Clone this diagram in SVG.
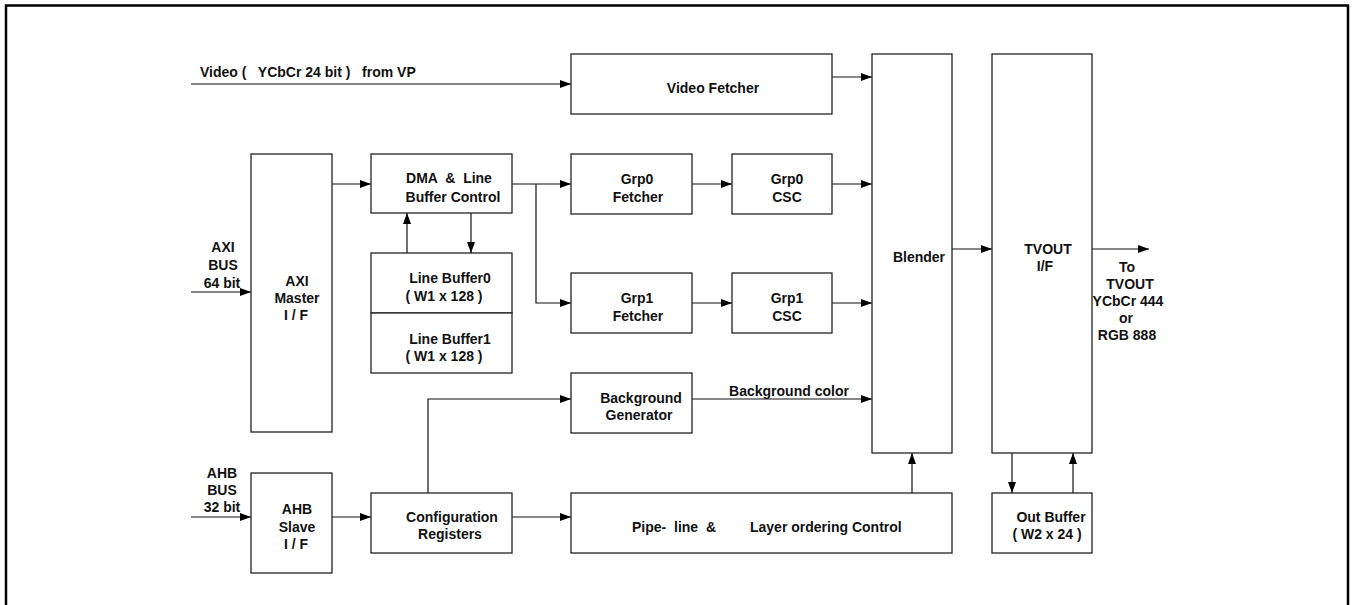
<svg xmlns="http://www.w3.org/2000/svg" width="1353" height="605" viewBox="0 0 1353 605">
<defs>
<marker id="ah" markerWidth="12" markerHeight="8" refX="11" refY="4" orient="auto" markerUnits="userSpaceOnUse">
<path d="M0,0 L11,4 L0,8 Z" fill="#000"/>
</marker>
<style>
.box{fill:#fff;stroke:#222;stroke-width:1.3}
.t{font-family:"Liberation Sans",Arial,sans-serif;font-size:14px;font-weight:bold;fill:#111;text-anchor:middle;white-space:pre}
.tl{font-family:"Liberation Sans",Arial,sans-serif;font-size:14px;font-weight:bold;fill:#111;white-space:pre}
.c{fill:none;stroke:#111;stroke-width:1.2}
.a{fill:none;stroke:#111;stroke-width:1.2;marker-end:url(#ah)}
</style>
</defs>
<rect x="6" y="5.5" width="1342" height="620" fill="#fff" stroke="#000" stroke-width="2.5"/>

<g id="connectors">
<line class="a" x1="191" y1="84" x2="571" y2="84"/>
<line class="a" x1="832" y1="77" x2="872" y2="77"/>
<line class="a" x1="191" y1="292" x2="251" y2="292"/>
<line class="a" x1="332" y1="184" x2="371" y2="184"/>
<line class="a" x1="407" y1="253" x2="407" y2="213"/>
<line class="a" x1="471" y1="213" x2="471" y2="253"/>
<line class="a" x1="512" y1="184" x2="571" y2="184"/>
<polyline class="a" points="536,184 536,303 571,303"/>
<line class="a" x1="692" y1="184" x2="732" y2="184"/>
<line class="a" x1="832" y1="184" x2="872" y2="184"/>
<line class="a" x1="692" y1="303" x2="732" y2="303"/>
<line class="a" x1="832" y1="303" x2="872" y2="303"/>
<line class="a" x1="692" y1="399" x2="872" y2="399"/>
<polyline class="a" points="428,493 428,399 571,399"/>
<line class="a" x1="191" y1="517" x2="251" y2="517"/>
<line class="a" x1="332" y1="517" x2="371" y2="517"/>
<line class="a" x1="512" y1="517" x2="571" y2="517"/>
<line class="a" x1="912" y1="493" x2="912" y2="453"/>
<line class="a" x1="952" y1="249" x2="992" y2="249"/>
<line class="a" x1="1092" y1="249" x2="1149" y2="249"/>
<line class="a" x1="1012" y1="453" x2="1012" y2="493"/>
<line class="a" x1="1073" y1="493" x2="1073" y2="453"/>
</g>

<g id="video-label">
<text class="tl" x="200" y="77" xml:space="preserve">Video (   YCbCr 24 bit )   from VP</text>
</g>
<g id="axi-bus-label">
<text class="t" x="223" y="252">AXI</text>
<text class="t" x="223" y="270">BUS</text>
<text class="t" x="222" y="288">64 bit</text>
</g>
<g id="ahb-bus-label">
<text class="t" x="222" y="478">AHB</text>
<text class="t" x="222" y="495">BUS</text>
<text class="t" x="222" y="512">32 bit</text>
</g>

<g id="video-fetcher">
<rect class="box" x="571" y="54" width="261" height="60"/>
<text class="t" x="713" y="93">Video Fetcher</text>
</g>
<g id="axi-master">
<rect class="box" x="251" y="154" width="81" height="278"/>
<text class="t" x="297" y="286">AXI</text>
<text class="t" x="297" y="303">Master</text>
<text class="t" x="296" y="320">I / F</text>
</g>
<g id="dma">
<rect class="box" x="371" y="154" width="141" height="59"/>
<text class="t" x="449" y="183" xml:space="preserve">DMA  &amp;  Line</text>
<text class="t" x="453" y="202">Buffer Control</text>
</g>
<g id="line-buffer0">
<rect class="box" x="371" y="253" width="141" height="60"/>
<text class="t" x="450" y="283">Line Buffer0</text>
<text class="t" x="444" y="301">( W1 x 128 )</text>
</g>
<g id="line-buffer1">
<rect class="box" x="371" y="313" width="141" height="60"/>
<text class="t" x="450" y="344">Line Buffer1</text>
<text class="t" x="444" y="361">( W1 x 128 )</text>
</g>
<g id="grp0-fetcher">
<rect class="box" x="571" y="154" width="121" height="60"/>
<text class="t" x="637" y="184">Grp0</text>
<text class="t" x="638" y="202">Fetcher</text>
</g>
<g id="grp0-csc">
<rect class="box" x="732" y="154" width="100" height="60"/>
<text class="t" x="787" y="184">Grp0</text>
<text class="t" x="787" y="202">CSC</text>
</g>
<g id="grp1-fetcher">
<rect class="box" x="571" y="273" width="121" height="60"/>
<text class="t" x="637" y="303">Grp1</text>
<text class="t" x="638" y="321">Fetcher</text>
</g>
<g id="grp1-csc">
<rect class="box" x="732" y="273" width="100" height="60"/>
<text class="t" x="787" y="303">Grp1</text>
<text class="t" x="787" y="321">CSC</text>
</g>
<g id="background-generator">
<rect class="box" x="571" y="373" width="121" height="60"/>
<text class="t" x="641" y="403">Background</text>
<text class="t" x="639" y="420">Generator</text>
</g>
<g id="bg-color-label">
<text class="t" x="789" y="396">Background color</text>
</g>
<g id="blender">
<rect class="box" x="872" y="54" width="80" height="399"/>
<text class="t" x="919" y="262">Blender</text>
</g>
<g id="tvout-if">
<rect class="box" x="992" y="54" width="100" height="399"/>
<text class="t" x="1048" y="254">TVOUT</text>
<text class="t" x="1045" y="271">I/F</text>
</g>
<g id="tvout-out-label">
<text class="t" x="1127" y="272">To</text>
<text class="t" x="1130" y="289">TVOUT</text>
<text class="t" x="1128" y="306">YCbCr 444</text>
<text class="t" x="1126" y="323">or</text>
<text class="t" x="1127" y="340">RGB 888</text>
</g>
<g id="ahb-slave">
<rect class="box" x="251" y="473" width="81" height="100"/>
<text class="t" x="297" y="514">AHB</text>
<text class="t" x="297" y="532">Slave</text>
<text class="t" x="296" y="549">I / F</text>
</g>
<g id="config-registers">
<rect class="box" x="371" y="493" width="141" height="60"/>
<text class="t" x="452" y="522">Configuration</text>
<text class="t" x="450" y="539">Registers</text>
</g>
<g id="pipeline">
<rect class="box" x="571" y="493" width="381" height="60"/>
<text class="tl" y="532" xml:space="preserve"><tspan x="632">Pipe-  line  &amp;</tspan><tspan x="750">Layer ordering Control</tspan></text>
</g>
<g id="out-buffer">
<rect class="box" x="992" y="493" width="100" height="60"/>
<text class="t" x="1051" y="522">Out Buffer</text>
<text class="t" x="1047" y="539">( W2 x 24 )</text>
</g>
</svg>
